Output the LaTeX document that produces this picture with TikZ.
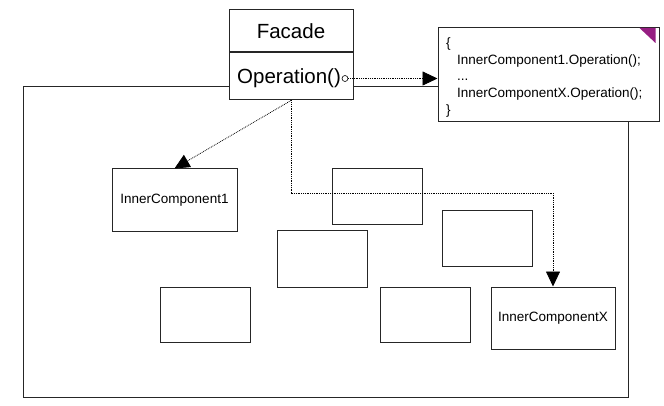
\documentclass[tikz,border=0pt]{standalone}
\usepackage{fontspec}
\setmainfont{Liberation Sans}
\usetikzlibrary{arrows.meta}
\definecolor{cornerpurple}{RGB}{150,30,130}
\tikzset{
  box/.style={draw=black!85, line width=1pt, fill=white, inner sep=0pt},
  part/.style={draw=black!85, line width=1pt, inner sep=0pt, minimum width=90pt, minimum height=55pt},
  link/.style={densely dotted, line width=0.8pt, -{Triangle[length=15pt,width=14pt]}},
}
\begin{document}
\begin{tikzpicture}[x=1pt, y=-1pt, font=\fontsize{13.5}{16}\selectfont]
    \useasboundingbox (0,0) rectangle (664,406);
    \draw[black!85, line width=1pt] (23,87) rectangle (628.5,397.5);
    \node[box, minimum width=124pt, minimum height=42pt, font=\fontsize{20.5}{24}\selectfont] (facade) at (291,31) {Facade};
    \node[box, minimum width=124pt, minimum height=47pt, anchor=north] (ops) at (facade.south) {};
    \node[anchor=west, inner sep=0pt, font=\fontsize{20.5}{24}\selectfont] (op) at (237,78) {Operation()};
    \node[draw, circle, inner sep=0pt, minimum size=6pt, line width=0.6pt, fill=white] (port) at (345,78.5) {};
    \node[box, minimum width=221pt, minimum height=94pt] (note) at (548.5,74.5) {};
    \node[align=left, text width=205pt, inner sep=0pt, yshift=-3pt, font=\fontsize{13.5}{16.8}\selectfont] (code) at (note.center)
      {\{\\\hspace*{11pt}InnerComponent1.Operation();\\\hspace*{11pt}...\\\hspace*{11pt}InnerComponentX.Operation();\\\}};
    \fill[cornerpurple] ([shift={(-20,1)}]note.north east) -- ([shift={(-4,1)}]note.north east) -- ([shift={(-4,16)}]note.north east) -- cycle;
    \node[part, minimum width=125pt, minimum height=63pt] (inner1) at (174.5,200.5) {InnerComponent1};
    \node[part, minimum width=124pt, minimum height=62pt] (innerX) at (553,318) {InnerComponentX};
    \node[part, minimum height=56pt] (p1) at (377,197) {};
    \node[part, minimum height=56pt] (p2) at (322,259) {};
    \node[part] (p3) at (487,238.5) {};
    \node[part] (p4) at (205,314.5) {};
    \node[part] (p5) at (425.5,314.5) {};
    \coordinate (turn) at (553,193);
    \draw[link] (port.east) -- (port.east -| note.west);
    \draw[link] (ops.south) -- (inner1.north);
    \draw[link] (ops.south) |- (turn) -- (innerX.north);
  \end{tikzpicture}
\end{document}
